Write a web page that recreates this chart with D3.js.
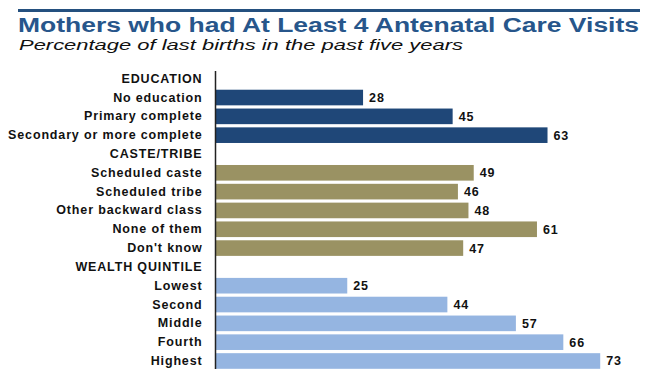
<!DOCTYPE html>
<html>
<head>
<meta charset="utf-8">
<script src="https://cdn.jsdelivr.net/npm/d3@7"></script>
<style>
  html, body { margin: 0; padding: 0; background: #fff; }
  svg { display: block; }
</style>
</head>
<body>
<svg id="chart" width="659" height="369" viewBox="0 0 659 369"></svg>
<script>
// Row labels in drawing order; group headings carry no value
const categories = [
  "EDUCATION", "No education", "Primary complete", "Secondary or more complete",
  "CASTE/TRIBE", "Scheduled caste", "Scheduled tribe", "Other backward class", "None of them", "Don't know",
  "WEALTH QUINTILE", "Lowest", "Second", "Middle", "Fourth", "Highest"
];

// Percent of last births with at least 4 antenatal care visits
const educationValues = [28, 45, 63];
const casteValues = [49, 46, 48, 61, 47];
const wealthValues = [25, 44, 57, 66, 73];

const educationRows = ["No education", "Primary complete", "Secondary or more complete"];
const casteRows = ["Scheduled caste", "Scheduled tribe", "Other backward class", "None of them", "Don't know"];
const wealthRows = ["Lowest", "Second", "Middle", "Fourth", "Highest"];

const groupColors = { education: "#1f4778", caste: "#9a9263", wealth: "#95b5e1" };

const bars = [
  ...educationRows.map((c, i) => ({ cat: c, value: educationValues[i], group: "education" })),
  ...casteRows.map((c, i) => ({ cat: c, value: casteValues[i], group: "caste" })),
  ...wealthRows.map((c, i) => ({ cat: c, value: wealthValues[i], group: "wealth" }))
];

const svg = d3.select("#chart");
const font = "'Liberation Sans', Arial, sans-serif";

svg.append("text")
  .attr("x", 18).attr("y", 32)
  .attr("font-family", font).attr("font-weight", "bold").attr("font-size", 19.5)
  .attr("fill", "#27568b")
  .attr("textLength", 621).attr("lengthAdjust", "spacingAndGlyphs")
  .text("Mothers who had At Least 4 Antenatal  Care Visits");

svg.append("text")
  .attr("x", 19).attr("y", 50)
  .attr("font-family", font).attr("font-style", "italic").attr("font-size", 15.5)
  .attr("fill", "#111")
  .attr("textLength", 444).attr("lengthAdjust", "spacingAndGlyphs")
  .text("Percentage of last births in the past five years");

// Scales
const x0 = 215.5;
const x = d3.scaleLinear().domain([0, 100]).range([x0, x0 + 527]);
const y = d3.scaleBand().domain(categories).range([69.3, 370.4])
  .paddingInner(0.17).paddingOuter(0.085);

// Bars
svg.append("g").selectAll("rect")
  .data(bars)
  .join("rect")
  .attr("x", x(0))
  .attr("y", d => y(d.cat))
  .attr("width", d => x(d.value) - x(0))
  .attr("height", y.bandwidth())
  .attr("fill", d => groupColors[d.group]);

// Value labels
svg.append("g").selectAll("text")
  .data(bars)
  .join("text")
  .attr("x", d => x(d.value) + 6)
  .attr("y", d => y(d.cat) + y.bandwidth() / 2)
  .attr("dy", "0.36em")
  .attr("font-family", font).attr("font-weight", "bold").attr("font-size", 12.5)
  .attr("letter-spacing", 0.9)
  .attr("fill", "#111")
  .text(d => d.value);

// Category axis on the left, drawn without ticks
const yAxis = d3.axisLeft(y).tickSize(0).tickPadding(13);
const axisG = svg.append("g")
  .attr("transform", `translate(${x0},0)`)
  .call(yAxis);
axisG.select(".domain").remove();
axisG.selectAll("text")
  .attr("font-family", font).attr("font-weight", "bold").attr("font-size", 12.5)
  .attr("letter-spacing", 0.85)
  .attr("fill", "#111");

svg.append("line")
  .attr("x1", x0).attr("x2", x0).attr("y1", 71).attr("y2", 369)
  .attr("stroke", "#222").attr("stroke-width", 1.5);

// Header rule above the title, drawn last
svg.append("path")
  .attr("d", d3.line()([[18, 10.5], [640, 10.5]]))
  .attr("stroke", "#24507f").attr("stroke-width", 3).attr("fill", "none");
</script>
</body>
</html>
